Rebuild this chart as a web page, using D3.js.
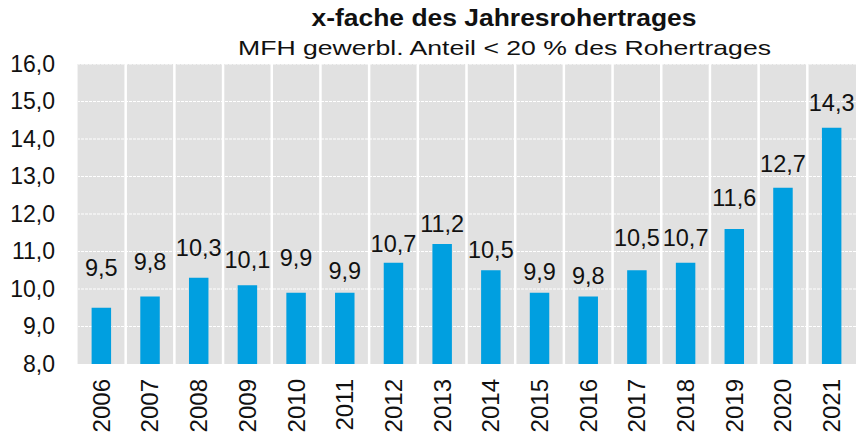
<!DOCTYPE html>
<html><head><meta charset="utf-8">
<script src="https://cdn.jsdelivr.net/npm/d3@7"></script>
<style>
html,body{margin:0;padding:0;background:#fff;}
svg{display:block;font-family:"Liberation Sans",Arial,Helvetica,sans-serif;}
</style></head>
<body><svg id="c" width="856" height="436"></svg>
<script>
const years = ["2006","2007","2008","2009","2010","2011","2012","2013","2014","2015","2016","2017","2018","2019","2020","2021"];
const values = [9.5,9.8,10.3,10.1,9.9,9.9,10.7,11.2,10.5,9.9,9.8,10.5,10.7,11.6,12.7,14.3];
const yTicks = [8,9,10,11,12,13,14,15,16];
const title = "x-fache des Jahresrohertrages";
const subtitle = "MFH gewerbl. Anteil < 20 % des Rohertrages";

// label placement (pixel lift of each value label above its bar top) – layout only
const labelLift = [32,27,22,17,27,14,11,12.3,12,12.7,12.5,24,17,23,16,16.75];

const svg = d3.select("#c");
const m = {l:77, r:856, t:64, b:364};
const x = d3.scaleBand().domain(years).range([m.l, m.r]).paddingInner(0).paddingOuter(0);
const y = d3.scaleLinear().domain([8,16]).range([m.b, m.t]);
const fmt = v => d3.format(".1f")(v).replace(".", ",");

svg.append("rect").attr("x", m.l).attr("y", m.t).attr("width", m.r-m.l).attr("height", m.b-m.t).attr("fill", "#e1e1e1");

// horizontal dashed grid
svg.append("g").selectAll("line").data(yTicks.slice(1)).join("line")
  .attr("x1", m.l).attr("x2", m.r).attr("y1", d=>y(d)).attr("y2", d=>y(d))
  .attr("stroke", "#ffffff").attr("stroke-width", 1).attr("stroke-dasharray", "3,1");

// vertical category separators
const seps = years.slice(1).map(d => x(d));
svg.append("g").selectAll("line").data(seps).join("line")
  .attr("x1", d=>d).attr("x2", d=>d).attr("y1", m.t).attr("y2", m.b)
  .attr("stroke", "#ffffff").attr("stroke-width", 2.5);
svg.append("line").attr("x1", m.l+0.5).attr("x2", m.l+0.5).attr("y1", m.t).attr("y2", m.b)
  .attr("stroke", "#f2f2f2").attr("stroke-width", 1);

// bars
const bw = x.bandwidth()*0.4;
svg.append("g").selectAll("rect").data(years).join("rect")
  .attr("x", (d)=>x(d)+x.bandwidth()/2-bw/2)
  .attr("width", bw)
  .attr("y", (d,i)=>y(values[i]))
  .attr("height", (d,i)=>y(8)-y(values[i]))
  .attr("fill", "#009fe0");

// value labels
svg.append("g").selectAll("text").data(years).join("text")
  .attr("x", d=>x(d)+x.bandwidth()/2)
  .attr("y", (d,i)=>y(values[i])-labelLift[i])
  .attr("text-anchor", "middle")
  .attr("font-size", 23.5)
  .attr("fill", "#111")
  .text((d,i)=>fmt(values[i]));

// y axis
const ya = d3.axisLeft(y).tickValues(yTicks).tickFormat(fmt).tickSize(0).tickPadding(0);
const gy = svg.append("g").attr("transform", `translate(${m.l-22},0)`).call(ya);
gy.select(".domain").remove();
gy.selectAll("text").attr("font-size", 23).attr("fill", "#111").attr("font-family", "Liberation Sans, Arial, sans-serif");

// x axis
const xa = d3.axisBottom(x).tickSize(0).tickPadding(0);
const gx = svg.append("g").attr("transform", `translate(0,${m.b})`).call(xa);
gx.select(".domain").remove();
gx.selectAll("text")
  .attr("font-size", 24).attr("fill", "#111").attr("font-family", "Liberation Sans, Arial, sans-serif")
  .attr("transform", "rotate(-90)")
  .attr("text-anchor", "end")
  .attr("dy", "0.35em")
  .attr("x", -15).attr("y", 0);

// titles
svg.append("text").attr("x", 504).attr("y", 26).attr("text-anchor", "middle")
  .attr("font-size", 23).attr("font-weight", "bold").attr("fill", "#111")
  .attr("textLength", 385).attr("lengthAdjust", "spacingAndGlyphs").text(title);
svg.append("text").attr("x", 504.5).attr("y", 55).attr("text-anchor", "middle")
  .attr("font-size", 21).attr("fill", "#111")
  .attr("textLength", 533).attr("lengthAdjust", "spacingAndGlyphs").text(subtitle);
</script></body></html>
